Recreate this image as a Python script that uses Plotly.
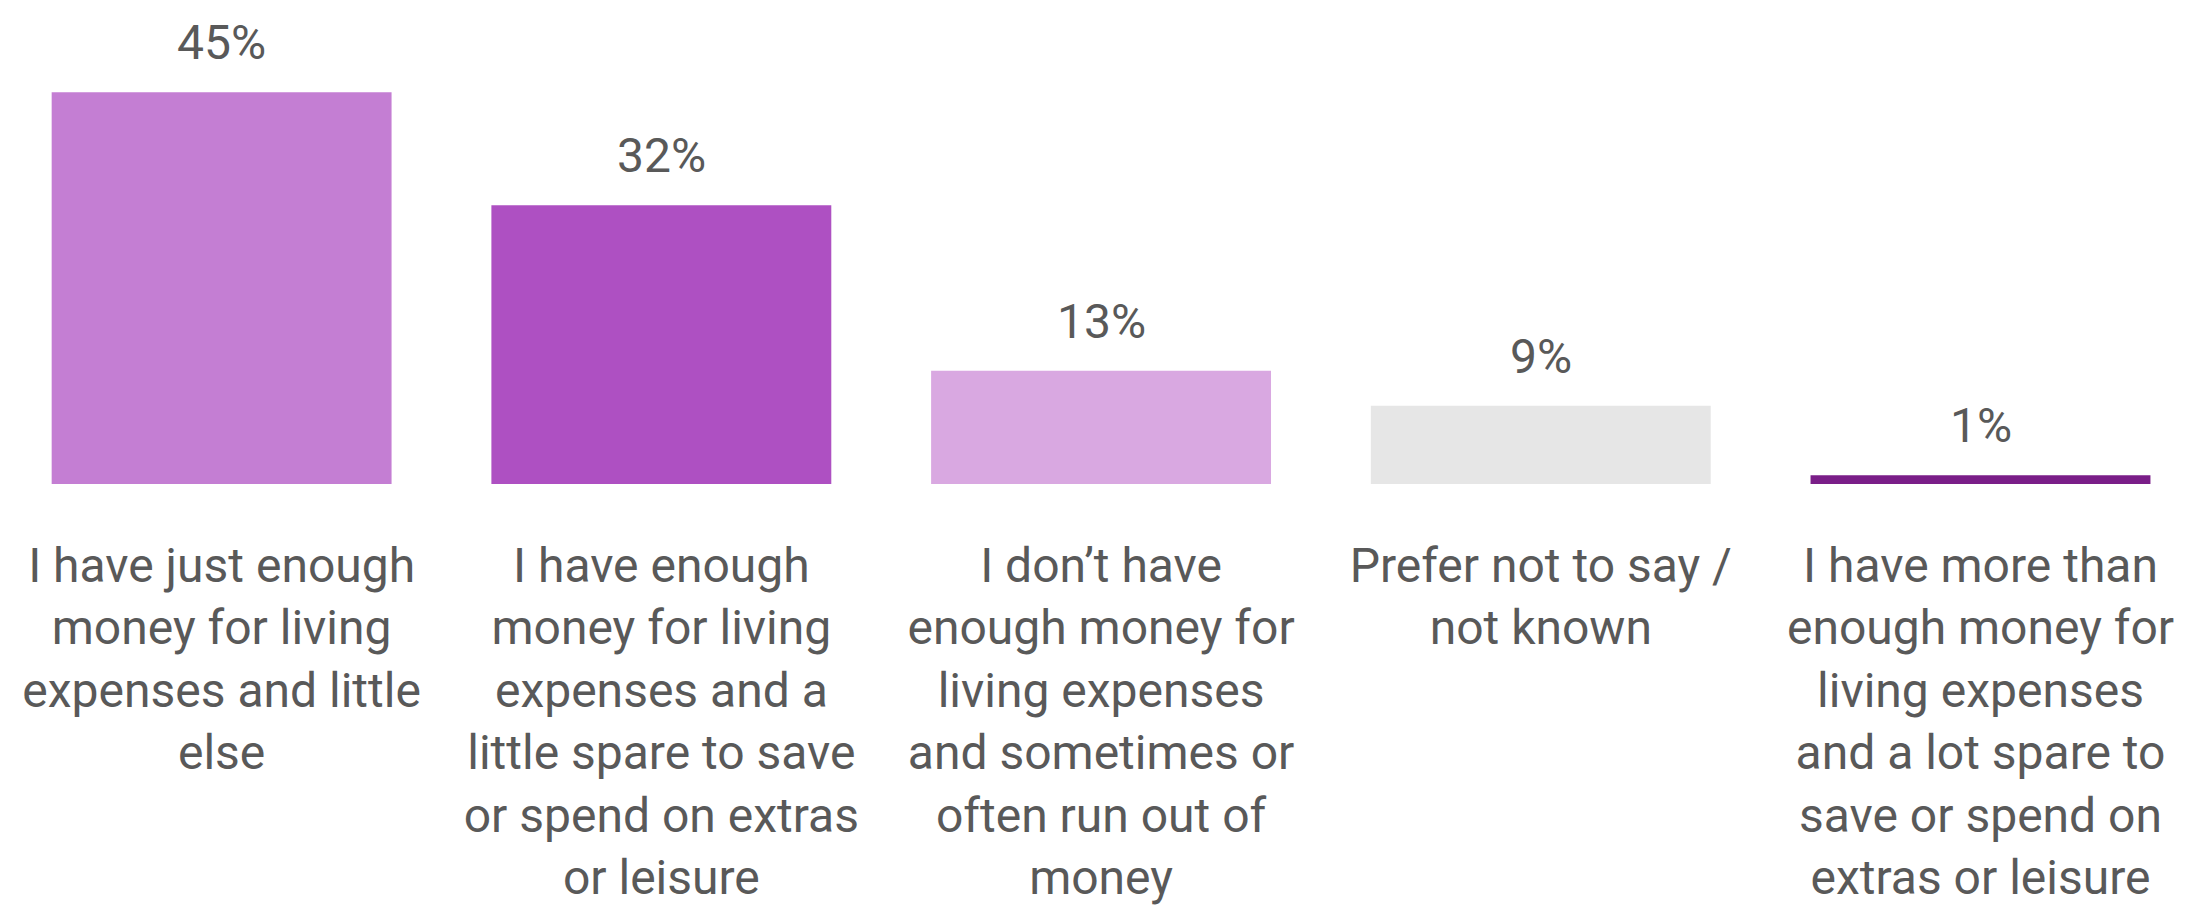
import plotly.graph_objects as go

# Survey responses: how well household income covers living costs
categories = [
    "I have just enough<br>money for living<br>expenses and little<br>else",
    "I have enough<br>money for living<br>expenses and a<br>little spare to save<br>or spend on extras<br>or leisure",
    "I don\u2019t have<br>enough money for<br>living expenses<br>and sometimes or<br>often run out of<br>money",
    "Prefer not to say /<br>not known",
    "I have more than<br>enough money for<br>living expenses<br>and a lot spare to<br>save or spend on<br>extras or leisure",
]
values = [45, 32, 13, 9, 1]
bar_colors = ["#C47ED3", "#AE50C2", "#D9A8E1", "#E6E6E6", "#7A1E88"]

TEXT_COLOR = "#595959"
FONT = "Roboto"
FONT_SIZE = 48

keys = [f"c{i}" for i in range(len(categories))]

fig = go.Figure(
    go.Bar(
        x=keys,
        y=values,
        width=0.773,
        marker=dict(color=bar_colors, line=dict(width=0)),
        hoverinfo="skip",
    )
)

# value labels above each bar
for k, v in zip(keys, values):
    fig.add_annotation(
        x=k, y=v, text=f"{v}%", showarrow=False,
        yanchor="bottom", yshift=19,
        font=dict(family=FONT, size=FONT_SIZE, color=TEXT_COLOR),
    )

fig.update_layout(
    width=2192, height=908,
    margin=dict(l=0, r=0, t=66, b=424),
    paper_bgcolor="white", plot_bgcolor="white",
    showlegend=False,
    xaxis=dict(
        tickmode="array", tickvals=keys, ticktext=categories,
        tickfont=dict(family=FONT, size=FONT_SIZE, color=TEXT_COLOR),
        range=[-0.504, 4.481],
        showline=False, showgrid=False, zeroline=False, ticks="",
        ticklabelstandoff=49,
    ),
    yaxis=dict(range=[0, 48], visible=False),
)

fig.write_html("out.html")
